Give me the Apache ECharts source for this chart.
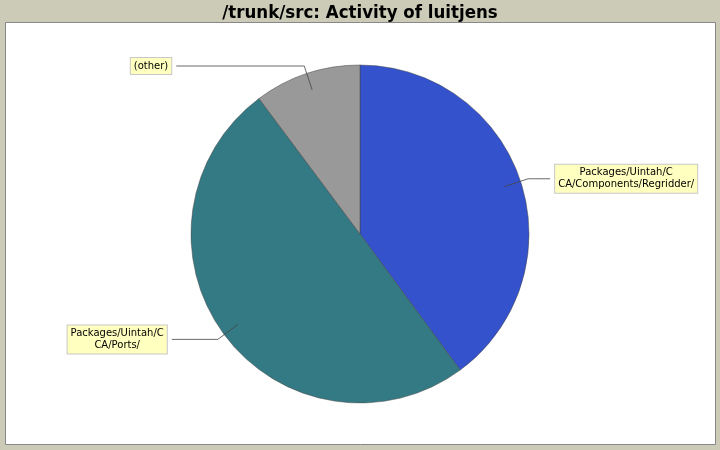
<!DOCTYPE html>
<html><head><meta charset="utf-8">
<script src="https://cdn.jsdelivr.net/npm/echarts@6/dist/echarts.min.js"></script>
<style>html,body{margin:0;padding:0;background:#cbcbb8;}#c{width:720px;height:450px;}</style>
</head><body><div id="c"></div>
<script>
var titleText = "/trunk/src: Activity of luitjens";
var categories = ["Packages/Uintah/CCA/Components/Regridder/", "Packages/Uintah/CCA/Ports/", "(other)"];
var values = [39.9, 49.9, 10.2];
var colors = ["#3352cc", "#337a84", "#999999"];
var lineTail = [22, 46, 128];

var chart = echarts.init(document.getElementById('c'), null, {renderer: 'canvas'});
function wrap(n) {
  return n.length > 17 ? n.slice(0, 17) + '\n' + n.slice(17) : n;
}
var pieData = categories.map(function (n, i) {
  return {name: n, value: values[i], itemStyle: {color: colors[i]}};
});
var labelData = categories.map(function (n, i) {
  return {name: n, value: values[i], labelLine: {length2: lineTail[i]}};
});
chart.setOption({
  backgroundColor: '#cbcbb8',
  animation: false,
  title: {
    text: titleText, left: 'center', top: -1,
    textStyle: {fontFamily: 'DejaVu Sans Condensed', fontWeight: 'bold', fontSize: 18.5, color: '#000'}
  },
  graphic: [{
    type: 'rect', shape: {x: 5.5, y: 22.5, width: 710, height: 422}, z: -10, silent: true,
    style: {fill: '#ffffff', stroke: '#888888', lineWidth: 1}
  }],
  series: [{
    type: 'pie',
    center: ['50%', '52%'],
    radius: 169,
    startAngle: 90,
    clockwise: true,
    silent: true,
    itemStyle: {borderColor: '#444', borderWidth: 0.5},
    label: {show: false},
    labelLine: {show: false},
    data: pieData
  }, {
    type: 'pie',
    center: ['50%', '52%'],
    radius: 152,
    startAngle: 90,
    clockwise: true,
    silent: true,
    z: 5,
    avoidLabelOverlap: false,
    itemStyle: {color: 'rgba(0,0,0,0)', borderWidth: 0},
    label: {
      show: true, position: 'outside',
      formatter: function (p) {
        return wrap(p.name).split('\n').map(function (s) { return '{c|' + s + '}'; }).join('\n');
      },
      rich: {c: {align: 'center', fontFamily: 'DejaVu Sans', fontSize: 10, color: '#000', lineHeight: 12}},
      fontFamily: 'DejaVu Sans', fontSize: 10, color: '#000', lineHeight: 12,
      backgroundColor: '#ffffc0', borderColor: '#c8c8c8', borderWidth: 1,
      padding: [2, 3, 2, 3]
    },
    labelLine: {show: true, length: 25, lineStyle: {color: '#444', width: 0.8}},
    data: labelData
  }]
});
</script></body></html>
